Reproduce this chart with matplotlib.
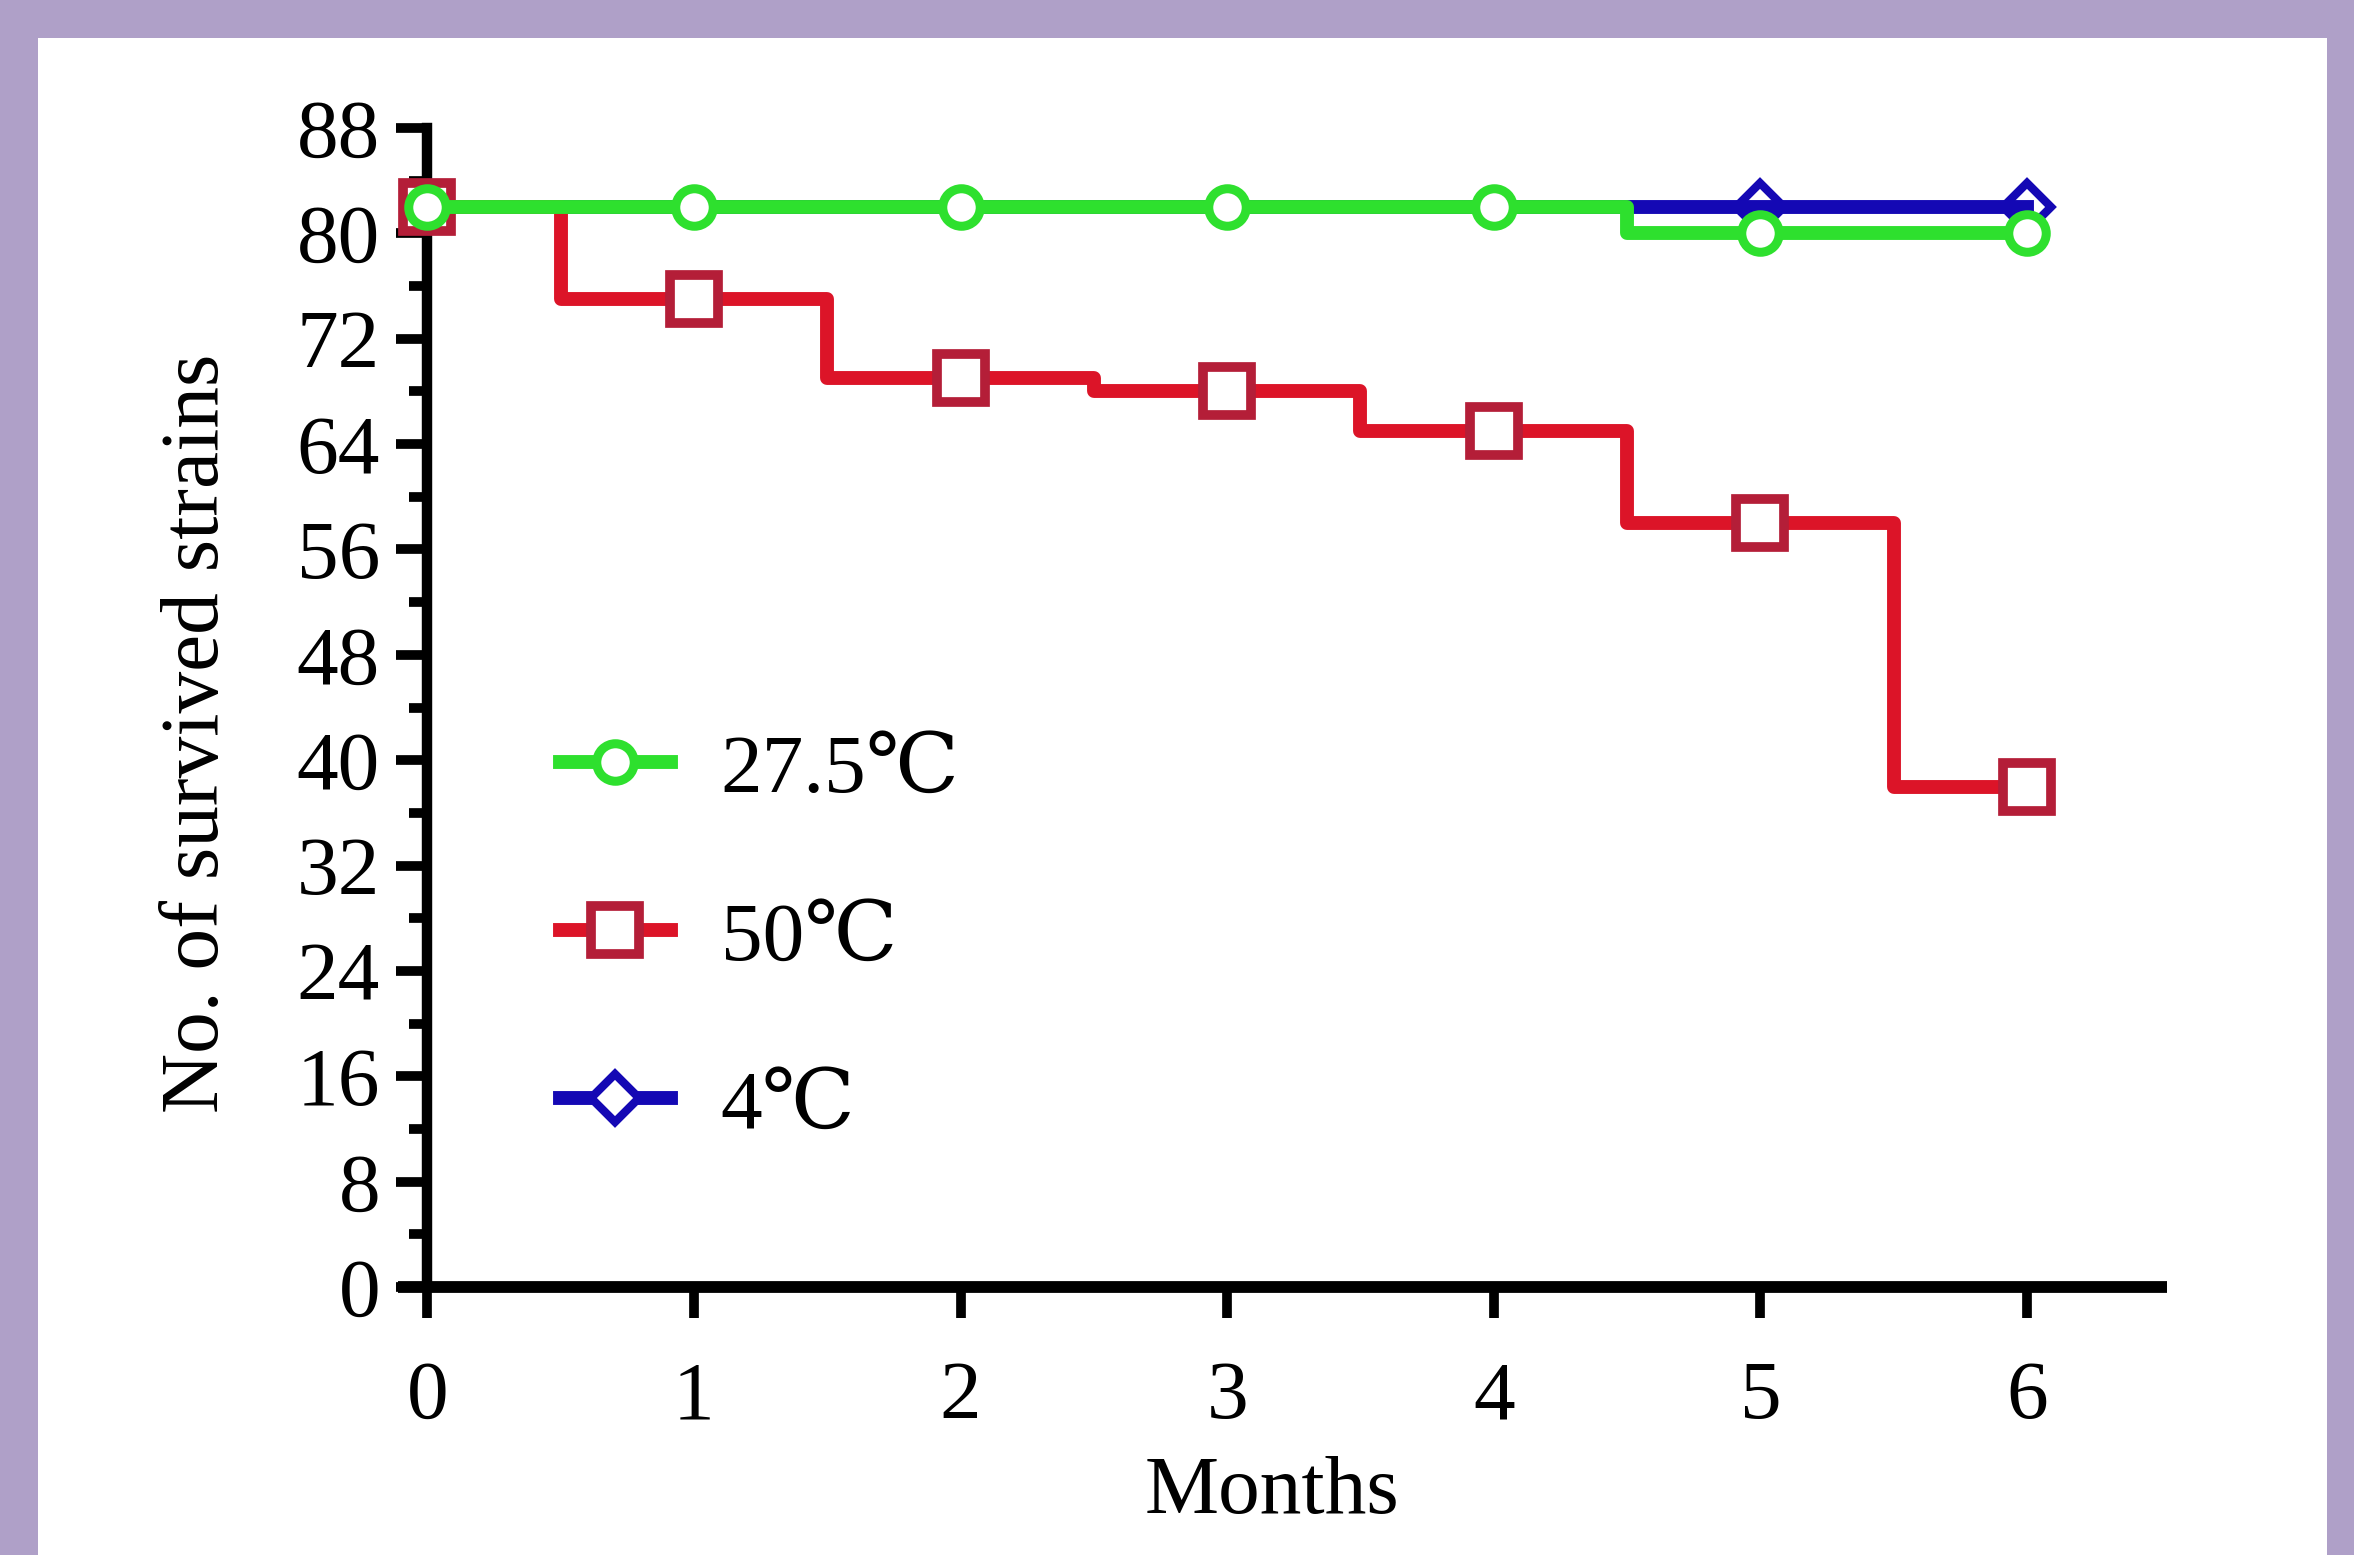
import numpy as np
import matplotlib
matplotlib.use("Agg")
import matplotlib.pyplot as plt
from matplotlib.lines import Line2D
from matplotlib.patches import Rectangle
from matplotlib.ticker import MultipleLocator

# data (value at each month, step halfway between)
months = [0, 1, 2, 3, 4, 5, 6]
survived_27 = [82, 82, 82, 82, 82, 80, 80]
survived_50 = [82, 75, 69, 68, 65, 58, 38]
survived_4 = [82, 82, 82, 82, 82, 82, 82]
labels = ["27.5℃", "50℃", "4℃"]
y_ticks = [0, 8, 16, 24, 32, 40, 48, 56, 64, 72, 80, 88]

W, H = 2354, 1555
DPI = 100
green = "#2ee02e"
red = "#dc1428"
red_edge = "#b41e38"
blue = "#1408b4"
fonts = ["Liberation Serif", "DejaVu Serif", "Noto Sans CJK SC"]
plt.rcParams["font.family"] = fonts
FS = 60

fig = plt.figure(figsize=(W / DPI, H / DPI), dpi=DPI)
fig.patch.set_facecolor("#afa0c8")
fig.patches.append(Rectangle((38 / W, 0), (2327 - 38) / W, 1 - 38 / H,
                             transform=fig.transFigure, facecolor="white",
                             edgecolor="none", zorder=-10))

ax = fig.add_axes([398 / W, (H - 1287) / H, (2167 - 398) / W, (1287 - 128) / H])
ax.set_facecolor("none")

lw = 10
circ = dict(marker="o", ms=27, mfc="white", mec=green, mew=6.5)
sq = dict(marker="s", ms=34, mfc="white", mec=red_edge, mew=7)
dia = dict(marker="D", ms=24, mfc="white", mec=blue, mew=6)

# 4 C lies under 27.5 C until month 4.5, only its last markers show
ax.plot(months, survived_4, ls="none", markevery=[5, 6], zorder=2, **dia)
ax.plot(months, survived_4, drawstyle="steps-mid", color=blue, lw=lw, zorder=2.1)
ax.plot(months, survived_50, drawstyle="steps-mid", color=red, lw=lw, zorder=3, **sq)
ax.plot(months, survived_27, drawstyle="steps-mid", color=green, lw=lw, zorder=4, **circ)

ax.set_xlim(-0.11, 6.525)
ax.set_ylim(0, 88)
ax.spines["top"].set_visible(False)
ax.spines["right"].set_visible(False)
ax.spines["left"].set_position(("data", 0))
ax.spines["left"].set_linewidth(7.5)
ax.spines["bottom"].set_linewidth(8.5)
ax.spines["bottom"].set_capstyle("butt")

ax.set_xticks(months)
ax.set_yticks(y_ticks)
ax.yaxis.set_minor_locator(MultipleLocator(4))
ax.tick_params(axis="x", direction="out", length=22, width=7, pad=31,
               labelsize=FS, colors="black")
ax.tick_params(axis="y", which="major", direction="out", length=22, width=7,
               pad=12, labelsize=FS)
ax.tick_params(axis="y", which="minor", direction="out", length=13, width=7)

handles = [
    Line2D([], [], color=green, lw=lw, **circ),
    Line2D([], [], color=red, lw=lw, **sq),
    Line2D([], [], color=blue, lw=lw, **dia),
]
ax.legend(handles, labels, loc="upper left", bbox_to_anchor=(560 / W, 1 - 733 / H),
          bbox_transform=fig.transFigure, frameon=False, fontsize=FS,
          handlelength=1.33, handletextpad=0.6, labelspacing=1.1,
          borderpad=0, borderaxespad=0, numpoints=1)

fig.text(218 / W, 1 - 733 / H, "No. of survived strains", rotation=90,
         rotation_mode="anchor", ha="center", va="baseline", fontsize=FS)
fig.text(1272 / W, 1 - 1513 / H, "Months", ha="center", va="baseline", fontsize=FS)

fig.savefig("out.png", dpi=DPI, facecolor=fig.get_facecolor())
